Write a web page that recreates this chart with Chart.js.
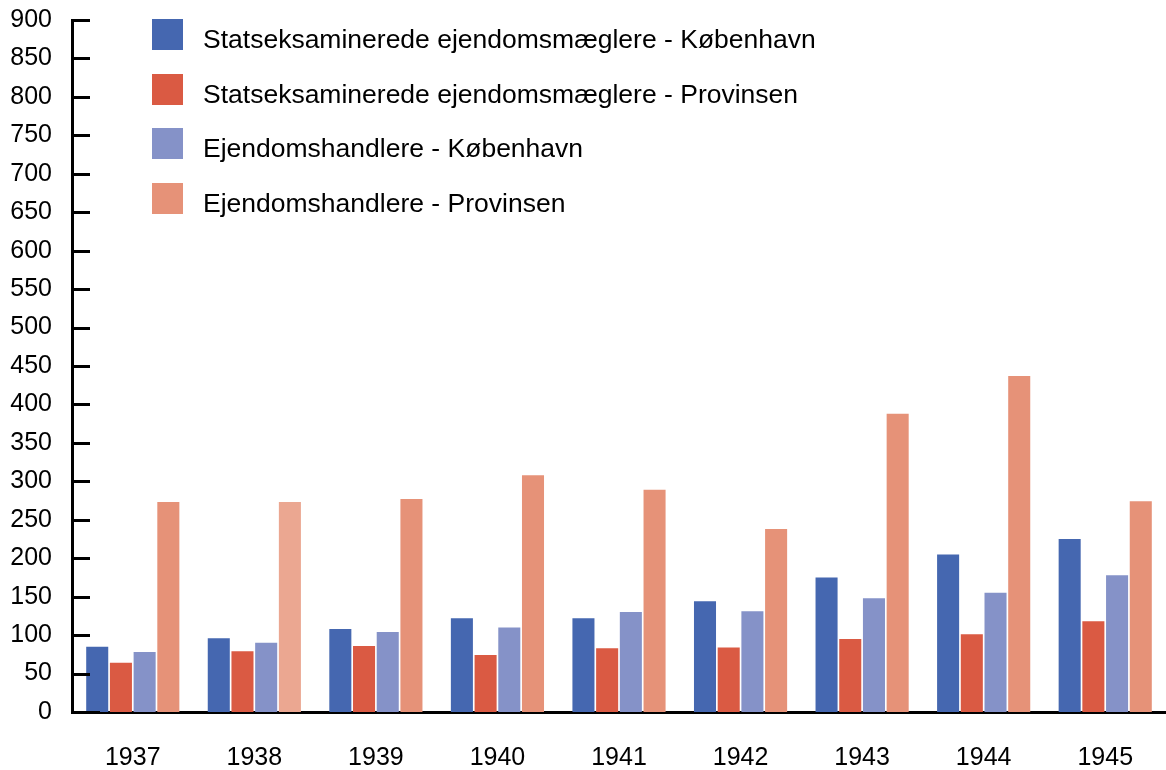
<!DOCTYPE html>
<html>
<head>
<meta charset="utf-8">
<script src="https://cdn.jsdelivr.net/npm/chart.js@4.4.1/dist/chart.umd.min.js"></script>
<style>
  html,body{margin:0;padding:0;background:#fff;}
  #wrap{position:relative;width:1166px;height:770px;}
  #legend{position:absolute;left:152px;top:19px;font-family:"Liberation Sans",Arial,sans-serif;font-size:26.5px;color:#000;}
  .item{display:flex;align-items:center;height:31px;margin-bottom:23.5px;white-space:nowrap;}
  .item span{position:relative;top:5px;}
  .sw{width:31px;height:31px;margin-right:20px;flex:none;}
</style>
</head>
<body>
<div id="wrap">
<canvas id="c" width="1166" height="770"></canvas>
<div id="legend"></div>
</div>
<script>
const categories = ["1937","1938","1939","1940","1941","1942","1943","1944","1945"];
const seriesLabels = [
  "Statseksaminerede ejendomsmæglere - København",
  "Statseksaminerede ejendomsmæglere - Provinsen",
  "Ejendomshandlere - København",
  "Ejendomshandlere - Provinsen"
];
const statsKbh  = [85, 96, 108, 122, 122, 144, 175, 205, 225];
const statsProv = [64, 79, 86, 74, 83, 84, 95, 101, 118];
const handlKbh  = [78, 90, 104, 110, 130, 131, 148, 155, 178];
const handlProv = [273, 273, 277, 308, 289, 238, 388, 437, 274];
const yTicks = [0,50,100,150,200,250,300,350,400,450,500,550,600,650,700,750,800,850,900];

const colors = ["#4567b0", "#da5a43", "#8592c8", "#e69278"];
const provColors = ["#e69278","#eba791","#e69278","#e69278","#e69278","#e69278","#e69278","#e69278","#e69278"];

const FONT = '"Liberation Sans", Arial, sans-serif';

const innerTicks = {
  id: 'innerTicks',
  afterDraw(chart) {
    const ctx = chart.ctx, y = chart.scales.y, a = chart.chartArea;
    ctx.save();
    ctx.strokeStyle = '#000';
    ctx.lineWidth = 3;
    yTicks.forEach(v => {
      const py = Math.round(y.getPixelForValue(v)) + 0.5;
      ctx.beginPath();
      ctx.moveTo(a.left, py);
      ctx.lineTo(a.left + (v === 0 ? 28 : 18), py);
      ctx.stroke();
    });
    ctx.restore();
  }
};

const data = {
  labels: categories,
  datasets: [
    {label: seriesLabels[0], data: statsKbh, backgroundColor: colors[0]},
    {label: seriesLabels[1], data: statsProv, backgroundColor: colors[1]},
    {label: seriesLabels[2], data: handlKbh, backgroundColor: colors[2]},
    {label: seriesLabels[3], data: handlProv, backgroundColor: provColors}
  ]
};

new Chart(document.getElementById('c'), {
  type: 'bar',
  data,
  options: {
    responsive: false,
    animation: false,
    devicePixelRatio: 1,
    layout: {padding: {top: 20, right: 0, left: 0, bottom: 0}},
    datasets: {bar: {barPercentage: 0.93, categoryPercentage: 0.78}},
    plugins: {legend: {display: false}, tooltip: {enabled: false}},
    scales: {
      x: {
        grid: {display: false},
        border: {display: true, color: '#000', width: 3},
        ticks: {color: '#000', font: {family: FONT, size: 25}, padding: 23, maxRotation: 0},
        afterFit(s) { s.height = 58; s.paddingLeft = 0; s.paddingRight = 0; }
      },
      y: {
        min: 0, max: 900,
        afterBuildTicks(s) { s.ticks = yTicks.map(v => ({value: v})); },
        grid: {display: false},
        border: {display: true, color: '#000', width: 3},
        ticks: {color: '#000', font: {family: FONT, size: 25}, padding: 12},
        afterFit(s) { s.width = 72; s.paddingTop = 0; s.paddingBottom = 0; }
      }
    }
  },
  plugins: [innerTicks]
});

const lg = document.getElementById('legend');
seriesLabels.forEach((t, i) => {
  const d = document.createElement('div');
  d.className = 'item';
  d.innerHTML = '<div class="sw" style="background:' + colors[i] + '"></div><span>' + t + '</span>';
  lg.appendChild(d);
});
</script>
</body>
</html>
